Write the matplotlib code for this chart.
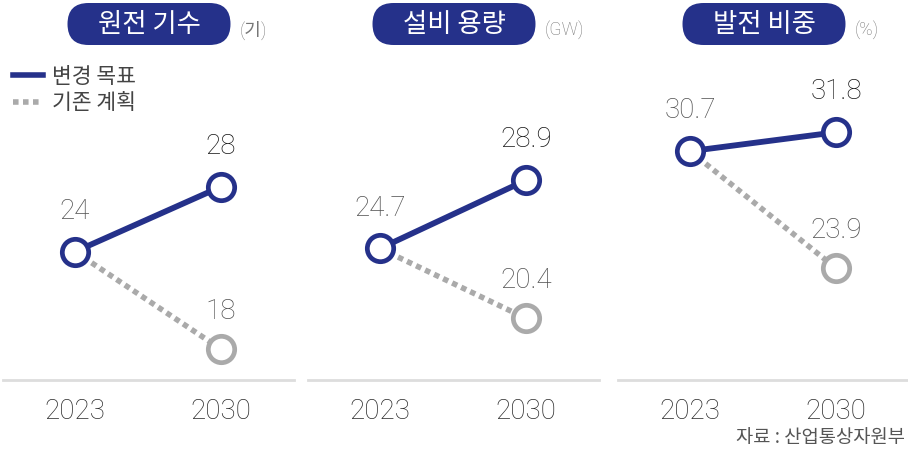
import matplotlib
matplotlib.use("Agg")
import matplotlib.pyplot as plt
from matplotlib.lines import Line2D
from matplotlib.patches import FancyBboxPatch

plt.rcParams['font.family'] = ['Noto Sans CJK KR', 'DejaVu Sans']

years = ["2023", "2030"]
titles = ["원전 기수", "설비 용량", "발전 비중"]
units = ["(기)", "(GW)", "(%)"]
target = [[24, 28], [24.7, 28.9], [30.7, 31.8]]      # 변경 목표
baseline = [[24, 18], [24.7, 20.4], [30.7, 23.9]]    # 기존 계획
legend_labels = ["변경 목표", "기존 계획"]
source = "자료 : 산업통상자원부"

NAVY = "#25318a"
GRAY = "#aaaaaa"
NUM_FONT = ["Roboto", "DejaVu Sans"]

W, H = 908, 450
fig = plt.figure(figsize=(W / 100, H / 100), dpi=100)

lefts = [3, 308, 618]
ylims = [(16.1, 35.8), (16.6, 36.3), (17.4, 36.0)]

for i in range(3):
    ax = fig.add_axes([lefts[i] / W, 70 / H, 291 / W, 320 / H])
    x = [0, 1]
    ax.plot(x, baseline[i], color=GRAY, lw=4, ls=(0, (1, 0.8)),
            dash_capstyle="butt", zorder=2)
    ax.plot(x[1], baseline[i][1], "o", ms=19, mfc="white", mec=GRAY, mew=3.4,
            zorder=3)
    ax.plot(x, target[i], color=NAVY, lw=4.2, solid_capstyle="butt", zorder=4)
    ax.plot(x, target[i], "o", ms=19, mfc="white", mec=NAVY, mew=3.4, zorder=5)

    fmt = "{:g}"
    ax.annotate(fmt.format(target[i][0]), (0, target[i][0]), xytext=(0, 29),
                textcoords="offset points", ha="center", va="center",
                fontsize=20, color="#505050", family=NUM_FONT, fontweight="light")
    ax.annotate(fmt.format(target[i][1]), (1, target[i][1]), xytext=(0, 29),
                textcoords="offset points", ha="center", va="center",
                fontsize=20, color="#151515", family=NUM_FONT, fontweight="light")
    ax.annotate(fmt.format(baseline[i][1]), (1, baseline[i][1]), xytext=(0, 27),
                textcoords="offset points", ha="center", va="center",
                fontsize=20, color="#505050", family=NUM_FONT, fontweight="light")

    ax.set_xlim(-0.493, 1.5)
    ax.set_ylim(*ylims[i])
    ax.set_xticks(x)
    ax.set_xticklabels(years, fontsize=20, color="#2a2a2a", family=NUM_FONT,
                       fontweight="light")
    ax.tick_params(axis="x", length=0, pad=13)
    ax.set_yticks([])
    for s in ["top", "left", "right"]:
        ax.spines[s].set_visible(False)
    ax.spines["bottom"].set_color("#dddddd")
    ax.spines["bottom"].set_linewidth(2)
    ax.patch.set_alpha(0)

    # title pill
    cx = lefts[i] + 146
    pill = FancyBboxPatch(((cx - 81.5) / 100, (H - 45) / 100), 1.63, 0.42,
                          boxstyle="round,pad=0,rounding_size=0.21",
                          transform=fig.dpi_scale_trans, fc=NAVY, ec="none")
    fig.patches.append(pill)
    fig.text(cx / W, 1 - 24 / H, titles[i], ha="center", va="center",
             fontsize=19, color="white")
    fig.text((cx + 91) / W, 1 - 30 / H, units[i], ha="left", va="center",
             fontsize=13, color="#777777", family=NUM_FONT + ["Noto Sans CJK KR"],
             fontweight="light")

handles = [Line2D([], [], color=NAVY, lw=4),
           Line2D([], [], color=GRAY, lw=4, ls=(0, (1, 0.8)), dash_capstyle="butt")]
fig.legend(handles, legend_labels, loc="upper left",
           bbox_to_anchor=(13 / W, 1 - 66 / H), frameon=False, fontsize=15.5,
           handlelength=1.4, handletextpad=0.4, labelspacing=0.2,
           borderpad=0, borderaxespad=0, labelcolor="#444444")

fig.text(905 / W, 1 - 437 / H, source, ha="right", va="center",
         fontsize=13.5, color="#555555")

fig.savefig("out.png", dpi=100)
